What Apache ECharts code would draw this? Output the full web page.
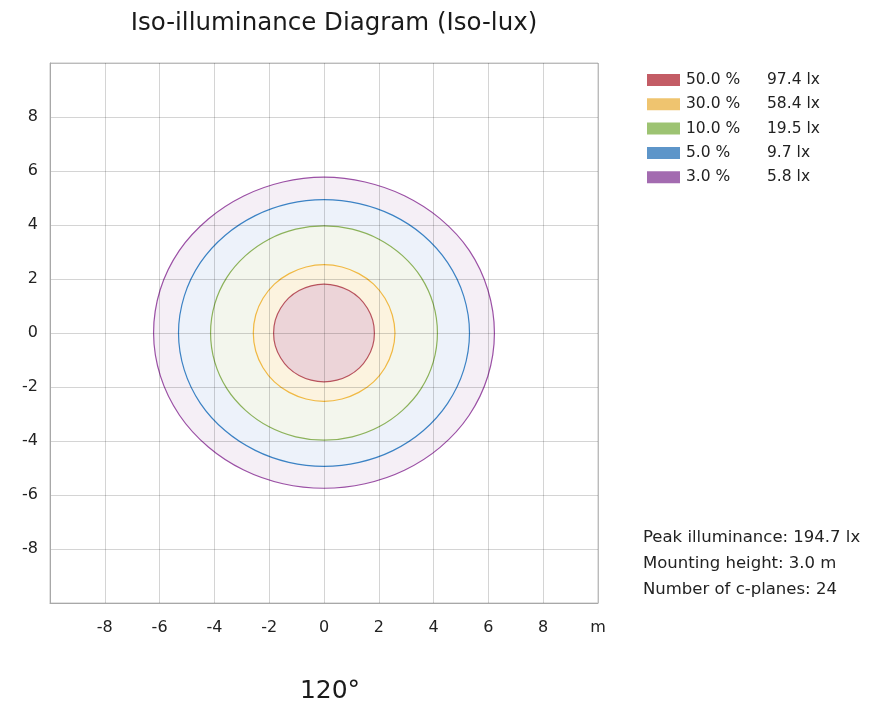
<!DOCTYPE html>
<html>
<head>
<meta charset="utf-8">
<script src="https://cdn.jsdelivr.net/npm/echarts@6/dist/echarts.min.js"></script>
<style>
html,body{margin:0;padding:0;background:#fff;}
#chart{width:878px;height:724px;}
</style>
</head>
<body>
<div id="chart"></div>
<script>
// c-plane angles (degrees, counter-clockwise from +x)
const cPlaneAngles = [0,15,30,45,60,75,90,105,120,135,150,165,180,195,210,225,240,255,270,285,300,315,330,345];
// iso-lux contour radii (m) per c-plane
const radius3 = [6.22,6.19,6.12,5.99,5.87,5.79,5.77,5.79,5.86,5.97,6.10,6.19,6.22,6.18,6.09,5.97,5.86,5.78,5.75,5.78,5.87,5.99,6.11,6.19];
const radius5 = [5.31,5.28,5.21,5.12,5.03,4.96,4.94,4.96,5.02,5.11,5.21,5.28,5.31,5.28,5.21,5.11,5.02,4.96,4.94,4.96,5.03,5.12,5.21,5.28];
const radius10 = [4.14,4.13,4.10,4.05,4.01,3.98,3.97,3.98,4.01,4.05,4.10,4.13,4.14,4.13,4.10,4.05,4.01,3.98,3.97,3.98,4.01,4.05,4.10,4.13];
const radius30 = [2.59,2.58,2.57,2.56,2.54,2.53,2.53,2.53,2.54,2.56,2.57,2.58,2.58,2.58,2.57,2.56,2.54,2.53,2.53,2.53,2.54,2.56,2.57,2.58];
const radius50 = [1.84,1.84,1.83,1.83,1.82,1.81,1.81,1.81,1.82,1.83,1.83,1.84,1.84,1.84,1.83,1.83,1.82,1.81,1.81,1.81,1.82,1.83,1.83,1.84];

const levelPercent = ['50.0 %','30.0 %','10.0 %','5.0 %','3.0 %'];
const levelLux = ['97.4 lx','58.4 lx','19.5 lx','9.7 lx','5.8 lx'];
const levelRadii = [radius50, radius30, radius10, radius5, radius3];

const axisTicks = [-10,-8,-6,-4,-2,0,2,4,6,8,10];
const axisUnit = 'm';

const titleText = 'Iso-illuminance Diagram (Iso-lux)';
const beamAngleText = '120°';
const infoLines = ['Peak illuminance: 194.7 lx','Mounting height: 3.0 m','Number of c-planes: 24'];

// styles
const legendColors = ['#c35c65','#efc46f','#9dc372','#5d95c9','#a36bb0'];
const lineColors = ['#b8535d','#f0b944','#8cb25a','#3b82c4','#9b50a5'];
const fillColors = ['#ecd4d8','#fcf3df','#f3f6ed','#edf2fa','#f5eff6'];
const FONT = 'DejaVu Sans';

const chart = echarts.init(document.getElementById('chart'));

function contourSeries(idx){
  const radii = levelRadii[idx];
  return {
    type:'custom',
    name: levelPercent[idx],
    itemStyle:{color: legendColors[idx]},
    data:[[0,0]],
    clip:false,
    z: 2 + (5 - idx),
    silent:true,
    renderItem:function(params, api){
      const pts = cPlaneAngles.map(function(a,i){
        const t = a*Math.PI/180;
        return api.coord([radii[i]*Math.cos(t), radii[i]*Math.sin(t)]);
      });
      return {
        type:'polygon',
        shape:{points:pts, smooth:0.35},
        style:{fill:fillColors[idx], stroke:lineColors[idx], lineWidth:1.2}
      };
    }
  };
}

// largest first so smaller regions sit on top
const series = [4,3,2,1,0].map(contourSeries);

const luxByName = {};
levelPercent.forEach(function(p,i){ luxByName[p] = levelLux[i]; });

chart.setOption({
  animation:false,
  textStyle:{fontFamily:FONT},
  title:{
    text:titleText,
    left:329, top:6, textAlign:'center',
    textStyle:{fontFamily:FONT, fontSize:24.5, fontWeight:'normal', color:'#1a1a1a'}
  },
  grid:{left:50, top:63, width:548, height:540, show:true, borderColor:'#c4c4c4', borderWidth:1, backgroundColor:'transparent'},
  xAxis:{
    type:'value', min:axisTicks[0], max:axisTicks[axisTicks.length-1], interval:2, z:10,
    axisLine:{show:true, onZero:false, lineStyle:{color:'#a8a8a8'}},
    axisTick:{show:false},
    splitLine:{show:true, lineStyle:{color:'rgba(0,0,0,0.17)', width:1}},
    axisLabel:{margin:17, fontSize:16, color:'#222', fontFamily:FONT,
      formatter:function(v){ if(v===axisTicks[axisTicks.length-1]) return axisUnit; if(v===axisTicks[0]) return ''; return String(v);} }
  },
  yAxis:{
    type:'value', min:axisTicks[0], max:axisTicks[axisTicks.length-1], interval:2, z:10,
    axisLine:{show:true, onZero:false, lineStyle:{color:'#a8a8a8'}},
    axisTick:{show:false},
    splitLine:{show:true, lineStyle:{color:'rgba(0,0,0,0.17)', width:1}},
    axisLabel:{margin:12, fontSize:16, color:'#222', fontFamily:FONT,
      formatter:function(v){ if(Math.abs(v)===10) return ''; return String(v);} }
  },
  legend:{
    orient:'vertical', left:642, top:67,
    itemWidth:33, itemHeight:12, itemGap:8.3,
    icon:'rect', selectedMode:false,
    data: levelPercent,
    formatter:function(name){ return '{a|'+name+'}{b|'+luxByName[name]+'}'; },
    textStyle:{
      fontFamily:FONT, fontSize:15.5, color:'#222',
      rich:{
        a:{width:81, padding:[0,0,0,1], fontSize:15.5, fontFamily:FONT, color:'#222'},
        b:{fontSize:15.5, fontFamily:FONT, color:'#222'}
      }
    }
  },
  graphic: infoLines.map(function(t,i){
    return {type:'text', left:643, top:529 + i*26, style:{text:t, fontFamily:FONT, fontSize:16.5, fill:'#222'}};
  }).concat([{
    type:'text', x:330, y:679,
    style:{text:beamAngleText, fontFamily:FONT, fontSize:25, fill:'#1a1a1a', textAlign:'center'}
  }]),
  series: series
});
</script>
</body>
</html>
